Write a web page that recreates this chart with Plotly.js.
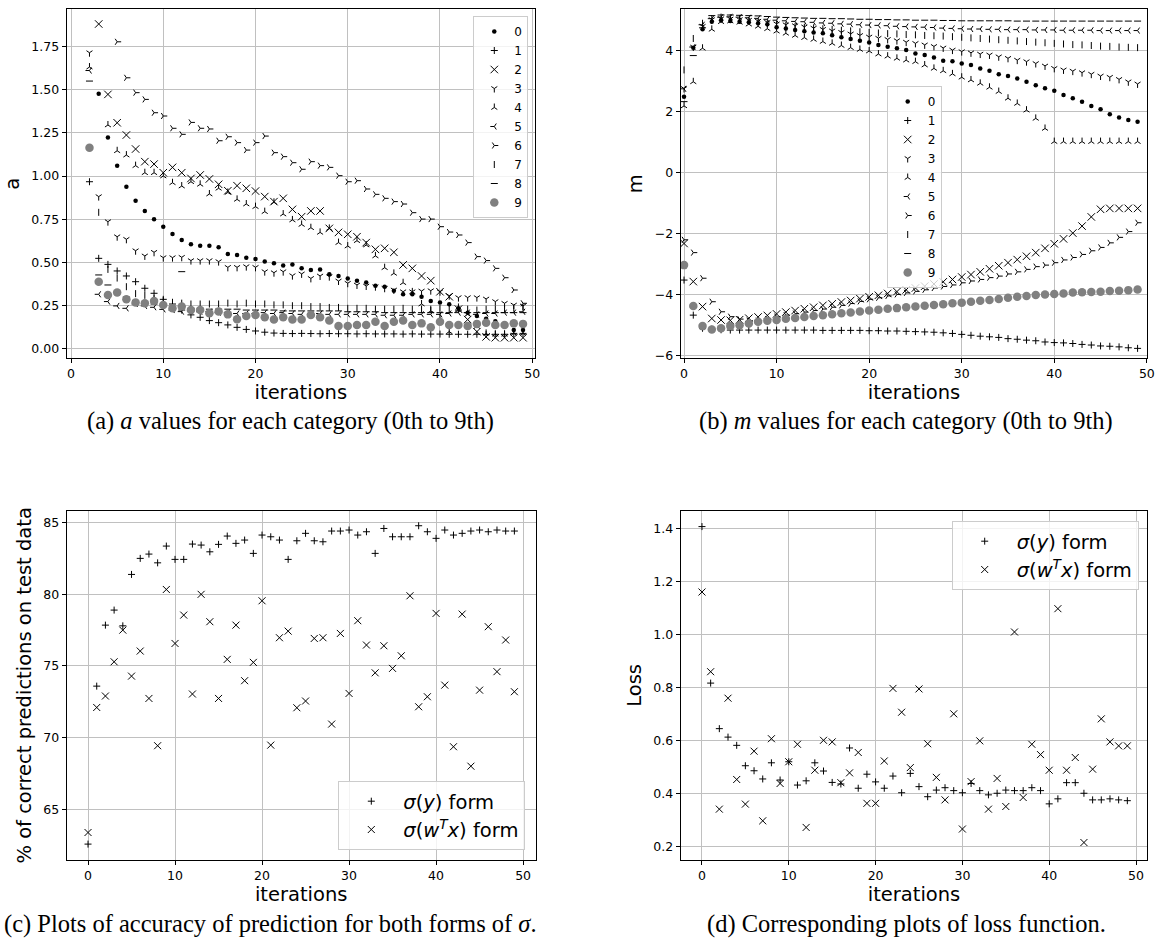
<!DOCTYPE html>
<html>
<head>
<meta charset="utf-8">
<script src="https://cdn.plot.ly/plotly-3.0.1.min.js"></script>
<style>html,body{margin:0;padding:0;background:#fff;}#chart{width:1155px;height:952px;}</style>
</head>
<body>
<div id="chart"></div>
<script>
// ---------- data ----------
const itersAll = [0,1,2,3,4,5,6,7,8,9,10,11,12,13,14,15,16,17,18,19,20,21,22,23,24,25,26,27,28,29,30,31,32,33,34,35,36,37,38,39,40,41,42,43,44,45,46,47,48,49];
const itersA = [2,3,4,5,6,7,8,9,10,11,12,13,14,15,16,17,18,19,20,21,22,23,24,25,26,27,28,29,30,31,32,33,34,35,36,37,38,39,40,41,42,43,44,45,46,47,48,49];
const categories = ['0','1','2','3','4','5','6','7','8','9'];

// (a) a values, iterations 2..49
const a0 = [null,1.476,1.222,1.060,0.938,0.857,0.798,0.750,0.707,0.665,0.630,0.605,0.597,0.597,0.588,0.549,0.543,0.528,0.520,0.505,0.495,0.482,0.489,0.466,0.457,0.460,0.432,0.422,0.408,0.395,0.385,0.366,0.360,0.337,0.316,0.316,0.302,0.277,0.268,0.258,0.235,0.210,0.190,0.175,0.160,0.140,0.110,0.110];
const a1 = [0.967,0.524,0.489,0.451,0.422,0.389,0.351,0.322,0.287,0.260,0.225,0.197,0.183,0.164,0.152,0.139,0.125,0.113,0.104,0.097,0.092,0.090,0.089,0.090,0.089,0.088,0.089,0.088,0.088,0.087,0.088,0.087,0.087,0.087,0.086,0.087,0.086,0.086,0.086,0.085,0.085,0.085,0.085,0.084,0.085,0.085,0.090,0.090];
const a2 = [null,1.879,1.472,1.308,1.237,1.156,1.083,1.069,1.019,1.050,1.019,0.986,1.006,0.983,0.952,0.915,0.944,0.929,0.913,0.881,0.852,0.871,0.807,0.765,0.798,0.798,0.697,0.674,0.663,0.649,0.615,0.576,0.582,0.559,0.486,0.466,0.422,0.395,0.331,0.302,0.230,0.170,0.100,0.070,0.065,0.065,0.065,0.065];
const a3 = [1.713,0.881,0.736,0.649,0.634,0.568,0.538,0.559,0.528,0.528,0.530,0.511,0.511,0.511,0.505,0.472,0.472,0.476,0.472,0.447,0.441,0.447,0.424,0.434,0.408,0.422,0.418,0.393,0.380,0.370,0.364,0.360,0.351,0.341,0.331,0.331,0.335,0.337,0.331,0.308,0.297,0.297,0.297,0.289,0.274,0.264,0.254,0.249];
const a4 = [1.630,null,1.295,1.146,1.121,1.060,1.019,1.019,1.000,0.961,0.942,0.967,0.952,0.896,0.929,0.905,0.865,0.838,0.823,0.794,0.848,0.780,0.746,0.720,0.701,0.674,0.697,0.615,0.595,0.626,0.601,0.538,0.470,0.437,0.383,0.330,0.260,0.220,0.180,0.100,0.240,0.200,0.130,0.090,0.085,0.085,0.090,0.090];
const a5 = [1.610,0.316,0.274,0.249,0.235,0.260,0.249,0.241,0.229,0.225,0.216,0.220,0.215,0.215,0.210,0.210,0.205,0.205,0.205,0.210,0.205,0.210,0.205,0.200,0.200,0.205,0.200,0.200,0.200,0.200,0.200,0.200,0.195,0.195,0.195,0.200,0.200,0.200,0.200,0.205,0.210,0.210,0.200,0.205,0.205,0.210,0.210,0.215];
const a6 = [null,null,null,1.776,1.568,1.482,1.443,1.366,1.347,1.276,1.241,1.310,1.276,1.272,1.204,1.227,1.193,1.150,1.193,1.231,1.135,1.112,1.077,1.039,1.083,1.060,1.050,1.002,0.967,0.973,0.925,0.894,0.871,0.852,0.838,0.788,0.751,0.751,0.707,0.676,0.659,0.615,0.534,0.511,0.466,0.412,0.341,0.264];
const a7 = [null,0.790,0.460,0.410,0.360,0.320,0.310,0.290,0.280,0.270,0.265,0.260,0.260,0.260,0.260,0.265,0.260,0.265,0.260,0.260,0.255,0.255,0.250,0.250,0.245,0.245,0.240,0.240,0.235,0.235,0.235,0.230,0.230,0.230,0.235,0.230,0.230,0.230,0.235,0.230,0.230,0.230,0.225,0.230,0.230,0.230,0.235,0.240];
const a8 = [1.549,0.428,0.370,0.330,0.300,0.280,0.270,0.260,0.250,0.245,0.447,0.235,0.235,0.230,0.230,0.230,0.230,0.225,0.225,0.225,0.225,0.220,0.220,0.220,0.220,0.220,0.220,0.220,0.215,0.215,0.215,0.215,0.210,0.210,0.210,0.210,0.210,0.210,0.210,0.210,0.220,0.210,0.210,0.210,0.210,0.210,0.210,0.210];
const a9 = [1.164,0.389,0.312,0.326,0.287,0.268,0.264,0.277,0.254,0.235,0.245,0.225,0.225,0.206,0.216,0.200,0.172,0.190,0.197,0.183,0.171,0.183,0.171,0.171,0.197,0.183,0.164,0.133,0.133,0.139,0.139,0.158,0.133,0.158,0.164,0.139,0.148,0.125,0.158,0.139,0.139,0.133,0.145,0.152,0.139,0.139,0.148,0.145];

// (b) m values, iterations 0..49
const m0 = [2.49,4.10,4.70,4.95,5.00,4.97,4.95,4.93,4.90,4.87,4.77,4.73,4.68,4.64,4.60,4.57,4.51,4.44,4.38,4.33,4.27,4.19,4.13,4.08,4.02,3.91,3.86,3.78,3.67,3.65,3.58,3.53,3.42,3.34,3.23,3.17,3.09,2.98,2.87,2.77,2.69,2.55,2.44,2.33,2.19,2.08,1.92,1.81,1.73,1.67];
const m1 = [-3.52,-4.67,-5.10,-5.13,-5.15,-5.16,-5.16,-5.16,-5.16,-5.16,-5.16,-5.16,-5.16,-5.16,-5.16,-5.17,-5.17,-5.17,-5.17,-5.17,-5.18,-5.18,-5.19,-5.19,-5.20,-5.21,-5.22,-5.23,-5.25,-5.27,-5.30,-5.33,-5.36,-5.38,-5.40,-5.44,-5.46,-5.49,-5.51,-5.55,-5.57,-5.58,-5.60,-5.63,-5.65,-5.68,-5.69,-5.71,-5.74,-5.76];
const m2 = [-2.32,-3.57,-4.39,-4.78,-4.83,-4.84,-4.82,-4.77,-4.73,-4.68,-4.63,-4.57,-4.52,-4.46,-4.41,-4.35,-4.30,-4.24,-4.19,-4.13,-4.07,-4.02,-3.96,-3.90,-3.84,-3.78,-3.72,-3.65,-3.58,-3.50,-3.42,-3.34,-3.25,-3.15,-3.05,-2.95,-2.85,-2.74,-2.62,-2.48,-2.33,-2.17,-1.98,-1.75,-1.45,-1.20,-1.17,-1.17,-1.17,-1.17];
const m3 = [2.76,4.12,4.80,5.02,5.05,5.04,5.02,5.00,4.97,4.93,4.88,4.85,4.82,4.78,4.74,4.70,4.65,4.60,4.55,4.50,4.45,4.41,4.37,4.33,4.28,4.24,4.19,4.14,4.09,4.02,3.97,3.93,3.89,3.86,3.80,3.75,3.69,3.64,3.58,3.50,3.42,3.37,3.33,3.28,3.23,3.17,3.13,3.06,2.98,2.91];
const m4 = [2.19,2.98,4.08,4.70,4.95,4.97,4.93,4.87,4.80,4.72,4.64,4.57,4.50,4.43,4.37,4.30,4.24,4.17,4.10,4.04,3.99,3.89,3.82,3.75,3.69,3.64,3.53,3.42,3.34,3.24,3.13,3.04,2.93,2.80,2.66,2.44,2.27,2.05,1.78,1.45,1.02,1.02,1.02,1.02,1.02,1.02,1.02,1.02,1.02,1.02];
const m5 = [2.75,4.12,4.85,5.05,5.10,5.11,5.10,5.08,5.06,5.03,5.00,4.98,4.96,4.95,4.93,4.91,4.90,4.88,4.87,4.85,4.84,4.83,4.82,4.80,4.79,4.78,4.77,4.76,4.74,4.73,4.72,4.71,4.71,4.70,4.70,4.69,4.69,4.69,4.68,4.68,4.68,4.67,4.67,4.67,4.67,4.66,4.66,4.66,4.66,4.66];
const m6 = [-2.20,-2.62,-3.46,-4.23,-4.56,-4.72,-4.80,-4.85,-4.85,-4.80,-4.72,-4.67,-4.62,-4.57,-4.52,-4.47,-4.41,-4.35,-4.29,-4.22,-4.15,-4.10,-4.04,-3.99,-3.94,-3.89,-3.84,-3.78,-3.73,-3.68,-3.61,-3.55,-3.50,-3.44,-3.39,-3.32,-3.25,-3.17,-3.08,-3.03,-2.95,-2.86,-2.78,-2.68,-2.56,-2.45,-2.30,-2.12,-1.93,-1.64];
const m7 = [3.37,4.40,4.90,5.05,5.10,5.08,5.05,5.00,4.95,4.90,4.86,4.83,4.80,4.77,4.75,4.72,4.70,4.67,4.65,4.62,4.60,4.58,4.56,4.55,4.53,4.52,4.50,4.49,4.48,4.46,4.44,4.42,4.40,4.38,4.36,4.34,4.32,4.30,4.28,4.26,4.24,4.22,4.20,4.19,4.17,4.15,4.14,4.12,4.11,4.10];
const m8 = [2.33,3.84,4.75,5.15,5.17,5.17,5.16,5.15,5.14,5.12,5.10,5.09,5.08,5.07,5.06,5.06,5.05,5.05,5.04,5.03,5.03,5.02,5.02,5.01,5.01,5.00,5.00,5.00,4.99,4.99,4.98,4.98,4.98,4.98,4.98,4.98,4.97,4.97,4.97,4.97,4.97,4.97,4.97,4.97,4.97,4.97,4.97,4.97,4.97,4.97];
const m9 = [-3.03,-4.37,-5.03,-5.14,-5.10,-5.03,-5.00,-4.94,-4.89,-4.85,-4.83,-4.79,-4.76,-4.73,-4.70,-4.67,-4.64,-4.61,-4.58,-4.55,-4.52,-4.49,-4.46,-4.44,-4.41,-4.39,-4.36,-4.34,-4.31,-4.28,-4.26,-4.23,-4.20,-4.17,-4.14,-4.10,-4.07,-4.04,-4.01,-3.99,-3.98,-3.96,-3.93,-3.92,-3.91,-3.90,-3.88,-3.87,-3.85,-3.83];

// (c) accuracy (%) on test data
const accSigmaY = [62.56,73.59,77.85,78.90,77.80,81.39,82.51,82.81,82.20,83.37,82.44,82.44,83.51,83.44,82.97,83.49,84.07,83.56,83.79,82.86,84.14,84.02,83.79,82.44,83.74,84.26,83.74,83.67,84.42,84.42,84.49,84.14,84.37,82.86,84.60,84.02,84.02,84.02,84.79,84.37,83.91,84.49,84.14,84.26,84.42,84.49,84.37,84.49,84.42,84.42];
const accSigmaWx = [63.37,72.10,72.90,75.29,77.50,74.29,76.04,72.73,69.43,80.34,76.57,78.55,73.04,80.00,78.09,72.73,75.46,77.85,73.97,75.25,79.55,69.47,76.97,77.43,72.08,72.55,76.92,76.97,70.94,77.27,73.08,78.16,76.46,74.52,76.41,74.83,75.71,79.90,72.15,72.85,78.67,73.66,69.36,78.62,68.00,73.31,77.74,74.60,76.81,73.20];

// (d) loss
const lossSigmaY = [1.409,0.818,0.646,0.614,0.583,0.506,0.487,0.456,0.517,0.452,0.521,0.433,0.449,0.517,0.486,0.443,0.437,0.573,0.421,0.474,0.445,0.421,0.467,0.404,0.477,0.427,0.389,0.414,0.423,0.412,0.404,0.439,0.412,0.396,0.402,0.414,0.412,0.412,0.423,0.412,0.362,0.381,0.442,0.442,0.402,0.377,0.377,0.381,0.377,0.374];
const lossSigmaWx = [1.162,0.861,0.342,0.761,0.454,0.361,0.561,0.298,0.608,0.439,0.521,0.587,0.273,0.489,0.602,0.596,0.442,0.479,0.556,0.364,0.364,0.524,0.798,0.708,0.499,0.796,0.589,0.462,0.377,0.702,0.267,0.446,0.600,0.342,0.458,0.352,1.011,0.386,0.587,0.548,0.489,1.099,0.489,0.537,0.216,0.493,0.683,0.596,0.581,0.581];

const formNames = ['<i>σ</i>(<i>y</i>) form', '<i>σ</i>(<i>w</i><sup><i>T</i></sup><i>x</i>) form'];
const captions = [
  '(a) <i>a</i> values for each category (0th to 9th)',
  '(b) <i>m</i> values for each category (0th to 9th)',
  '(c) Plots of accuracy of prediction for both forms of <i>σ</i>.',
  '(d) Corresponding plots of loss function.'
];

// ---------- styles ----------
const catStyle = [
  {symbol:'circle', size:4.5, color:'#000', lw:0},
  {symbol:'cross-thin', size:5, color:'#000', lw:1},
  {symbol:'x-thin', size:7.5, color:'#000', lw:1},
  {symbol:'y-down', size:5, color:'#000', lw:1},
  {symbol:'y-up', size:5, color:'#000', lw:1},
  {symbol:'y-left', size:5, color:'#000', lw:1},
  {symbol:'y-right', size:5, color:'#000', lw:1},
  {symbol:'line-ns', size:5, color:'#000', lw:1},
  {symbol:'line-ew', size:5, color:'#000', lw:1},
  {symbol:'circle', size:8.5, color:'#808080', lw:0}
];

function mk(x, y, name, st, xa, ya, leg) {
  return {
    type:'scatter', mode:'markers', x:x, y:y, name:name,
    xaxis:xa, yaxis:ya, legend:leg, showlegend:true,
    marker:{symbol:st.symbol, size:st.size, color:st.color,
            line:{color:st.color, width:st.lw}}
  };
}

const aSeries = [a0,a1,a2,a3,a4,a5,a6,a7,a8,a9];
const mSeries = [m0,m1,m2,m3,m4,m5,m6,m7,m8,m9];
const traces = [];
categories.forEach((c,i) => traces.push(mk(itersA, aSeries[i], c, catStyle[i], 'x', 'y', 'legend')));
categories.forEach((c,i) => traces.push(mk(itersAll, mSeries[i], c, catStyle[i], 'x2', 'y2', 'legend2')));
const plusSt = {symbol:'cross-thin', size:5, color:'#000', lw:1};
const xSt = {symbol:'x-thin', size:7, color:'#000', lw:1};
traces.push(mk(itersAll, accSigmaY, formNames[0], plusSt, 'x3', 'y3', 'legend3'));
traces.push(mk(itersAll, accSigmaWx, formNames[1], xSt, 'x3', 'y3', 'legend3'));
traces.push(mk(itersAll, lossSigmaY, formNames[0], plusSt, 'x4', 'y4', 'legend4'));
traces.push(mk(itersAll, lossSigmaWx, formNames[1], xSt, 'x4', 'y4', 'legend4'));

const W = 1155, H = 952;
const tickFont = {family:'DejaVu Sans', size:12.5, color:'#000'};
const titleFont = {family:'DejaVu Sans', size:19.5, color:'#000'};

function xax(domain, range, anchor) {
  return {domain:domain, range:range, anchor:anchor, tickvals:[0,10,20,30,40,50],
    showgrid:true, gridcolor:'#c0c0c0', gridwidth:1, zeroline:false,
    showline:true, mirror:true, linecolor:'#000', linewidth:1,
    ticks:'outside', ticklen:4, tickwidth:1, tickcolor:'#000', tickfont:tickFont,
    title:{text:'iterations', font:titleFont, standoff:4}, automargin:false};
}
function yax(domain, range, anchor, tickvals, fmt, title, standoff) {
  return {domain:domain, range:range, anchor:anchor, tickvals:tickvals, tickformat:fmt,
    showgrid:true, gridcolor:'#c0c0c0', gridwidth:1, zeroline:false,
    showline:true, mirror:true, linecolor:'#000', linewidth:1,
    ticks:'outside', ticklen:4, tickwidth:1, tickcolor:'#000', tickfont:tickFont,
    title:{text:title, font:titleFont, standoff:standoff}, automargin:false};
}
function legendBox(x, y, yanchor, fs, iw) {
  return {x:x, y:y, xanchor:'right', yanchor:yanchor, bgcolor:'rgba(255,255,255,0.8)',
    bordercolor:'#cccccc', borderwidth:1, font:{family:'DejaVu Sans', size:fs, color:'#000'},
    itemwidth:iw, tracegroupgap:0};
}

const dxA = [66.7/W, 535/W], dxB = [680.7/W, 1147.3/W], dxC = [66.7/W, 535.7/W];
const dyTop = [1-358.3/H, 1-9.3/H], dyBot = [1-860/H, 1-510.7/H];

const layout = {
  width:W, height:H, autosize:false,
  margin:{l:0, r:0, t:0, b:0},
  paper_bgcolor:'#fff', plot_bgcolor:'#fff',
  font:{family:'DejaVu Sans', color:'#000'},
  xaxis: xax(dxA, [-0.47, 50.3], 'y'),
  yaxis: yax(dyTop, [-0.054, 1.964], 'x', [0,0.25,0.5,0.75,1,1.25,1.5,1.75], '.2f', 'a', 6),
  xaxis2: xax(dxB, [-0.36, 50.05], 'y2'),
  yaxis2: yax(dyTop, [-6.085, 5.357], 'x2', [-6,-4,-2,0,2,4], 'd', 'm', 6),
  xaxis3: xax(dxC, [-2.45, 51.45], 'y3'),
  yaxis3: yax(dyBot, [61.45, 85.84], 'x3', [65,70,75,80,85], 'd', '% of correct predictions on test data', 6),
  xaxis4: xax(dxB, [-2.45, 51.3], 'y4'),
  yaxis4: yax(dyBot, [0.15, 1.469], 'x4', [0.2,0.4,0.6,0.8,1.0,1.2,1.4], '.1f', 'Loss', 6),
  legend: legendBox(528.3/W, 1-16/H, 'top', 12, 30),
  legend2: legendBox(941.7/W, 1-86/H, 'top', 12, 30),
  legend3: legendBox(525.3/W, 1-850/H, 'bottom', 19.5, 54),
  legend4: legendBox(1138.7/W, 1-521/H, 'top', 19.5, 54),
  annotations: [
    {text:captions[0], x:291/W, y:1-421/H},
    {text:captions[1], x:906/W, y:1-421/H},
    {text:captions[2], x:270/W, y:1-924/H},
    {text:captions[3], x:906/W, y:1-924/H}
  ].map(a => Object.assign(a, {xref:'paper', yref:'paper', xanchor:'center', yanchor:'middle',
      showarrow:false, font:{family:'Liberation Serif', size:24.5, color:'#000'}}))
};

Plotly.newPlot('chart', traces, layout, {staticPlot:true, displayModeBar:false});
</script>
</body>
</html>
